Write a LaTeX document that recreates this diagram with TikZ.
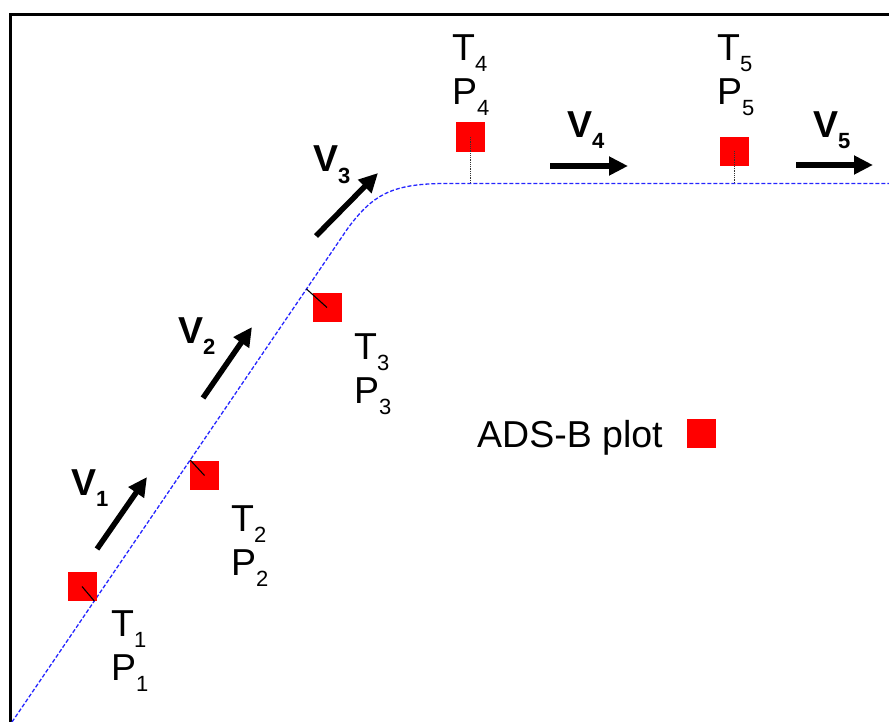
\documentclass[tikz,border=0pt]{standalone}
\usepackage{fontspec}
\setmainfont{Liberation Sans}
\usetikzlibrary{arrows.meta}
\newcommand\lowsub[1]{\raisebox{-11bp}{\fontsize{22bp}{22bp}\selectfont #1}}
\begin{document}
\begin{tikzpicture}[x=1bp,y=-1bp,
  plot/.style={fill=red,inner sep=0,minimum size=29bp,draw=none},
  track/.style={blue!85!white,line width=1.3bp,dash pattern=on 4bp off 2bp},
  tick/.style={black,line width=1.1bp},
  vtick/.style={black!80,line width=1.6bp,dash pattern=on 1bp off 0.8bp},
  vel/.style={line width=5.5bp,-{Triangle[length=19bp,width=18bp]}},
  lbl/.style={anchor=north west,inner sep=0,align=left,font=\fontsize{37.5bp}{44bp}\selectfont},
  vlbl/.style={anchor=base west,inner sep=0,font=\bfseries\fontsize{37.5bp}{44bp}\selectfont},
  legend/.style={anchor=base west,inner sep=0,font=\fontsize{37.5bp}{44bp}\selectfont}]
\useasboundingbox (0,0) rectangle (889,722);
\begin{scope}
\clip (0,0) rectangle (889,722);
\draw[line width=2.6bp] (10.5,14.5) rectangle (950,780);
\end{scope}
% track
\coordinate (trs) at (12,722);
\coordinate (trk) at (348,228);
\coordinate (trh) at (443,183.5);
\coordinate (tre) at (889,183.5);
\draw[track] (trs) -- (trk) .. controls (372,196) and (390,184) .. (trh) -- (tre);
% points on track
\coordinate (c1) at (94.3,601);
\coordinate (c2) at (190.2,460);
\coordinate (c3) at (306.5,289);
\coordinate (c4) at (470.5,183.5);
\coordinate (c5) at (734.5,183.5);
% plots
\node[plot] (s1) at (82,586.5) {};
\node[plot] (s2) at (204.5,475.5) {};
\node[plot] (s3) at (327,307.5) {};
\node[plot] (s4) at (470.5,137) {};
\node[plot] (s5) at (734.5,151.5) {};
\draw[tick] (s1.center) -- (c1);
\draw[tick] (s2.center) -- (c2);
\draw[tick] (s3.center) -- (c3);
\draw[vtick] (s4.center) -- (c4);
\draw[vtick] (s5.center) -- (c5);
% labels
\node[lbl] (t1) at (111,610) {T\lowsub{1}\\P\lowsub{1}};
\node[lbl] (t2) at (231,505) {T\lowsub{2}\\P\lowsub{2}};
\node[lbl] (t3) at (354,333) {T\lowsub{3}\\P\lowsub{3}};
\node[lbl] (t4) at (452,35) {T\lowsub{4}\\P\lowsub{4}};
\node[lbl] (t5) at (717,35) {T\lowsub{5}\\P\lowsub{5}};
% velocity vectors
\coordinate (a1s) at (97,549);  \coordinate (a1e) at (147,477);
\coordinate (a2s) at (203,398); \coordinate (a2e) at (252,327);
\coordinate (a3s) at (316,236); \coordinate (a3e) at (378,173);
\coordinate (a4s) at (550,166); \coordinate (a4e) at (628,166);
\coordinate (a5s) at (796,165); \coordinate (a5e) at (873,165);
\draw[vel] (a1s) -- (a1e);
\draw[vel] (a2s) -- (a2e);
\draw[vel] (a3s) -- (a3e);
\draw[vel] (a4s) -- (a4e);
\draw[vel] (a5s) -- (a5e);
\node[vlbl] (v1) at (71,495) {V\lowsub{1}};
\node[vlbl] (v2) at (178,343) {V\lowsub{2}};
\node[vlbl] (v3) at (313,172) {V\lowsub{3}};
\node[vlbl] (v4) at (567,138) {V\lowsub{4}};
\node[vlbl] (v5) at (813,138) {V\lowsub{5}};
% legend
\node[legend] (leg) at (477,447) {ADS-B plot};
\node[plot] (legsq) at (701.5,433) {};
\end{tikzpicture}
\end{document}
